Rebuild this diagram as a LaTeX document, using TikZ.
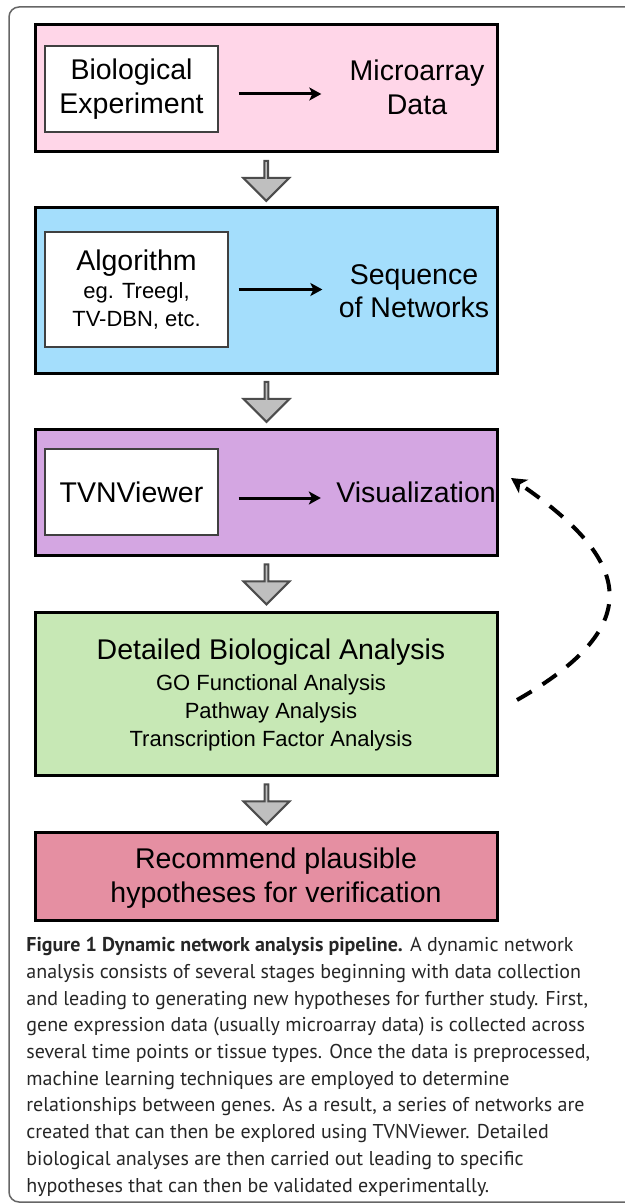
\documentclass[tikz,border=0pt]{standalone}
\usepackage{fontspec}
\setmainfont{Liberation Sans}
\newfontfamily\capfont{PT Sans}
\usepackage{tikz}
\usetikzlibrary{arrows.meta}
\usetikzlibrary{positioning}
\usetikzlibrary{shapes.arrows}
\usetikzlibrary{calc}

\definecolor{stagepink}{RGB}{255,214,232}
\definecolor{stageblue}{RGB}{164,222,252}
\definecolor{stagepurple}{RGB}{212,166,226}
\definecolor{stagegreen}{RGB}{199,232,181}
\definecolor{stagerose}{RGB}{229,143,162}

\newcommand{\bigtxt}{\fontsize{14.25}{17}\selectfont}
\newcommand{\smalltxt}{\fontsize{11}{14}\selectfont}

\tikzset{
  stage/.style={draw=black,line width=1.5pt,minimum width=231pt,inner sep=0pt},
  toolbox/.style={draw=black!75,fill=white,line width=0.7pt,align=center,font=\bigtxt},
  label/.style={anchor=base,align=center,inner sep=0pt,font=\bigtxt},
  flow/.style={-{Stealth[length=6pt,width=6.5pt,inset=1.5pt]},line width=1.5pt},
  blockarrow/.style={single arrow,shape border rotate=270,draw=black!70,fill=black!25,
    line width=1pt,minimum height=20pt,minimum width=23pt,single arrow head extend=6pt,inner sep=0pt},
  feedback/.style={-{Stealth[length=7.5pt,width=8pt,inset=2pt]},line width=2pt,dash pattern=on 8.5pt off 6.5pt}
}

\begin{document}
\begin{tikzpicture}[x=0.5pt,y=-0.5pt]
    \clip (0,0) rectangle (625,1203);
    \draw[black!60,line width=0.75pt,rounded corners=5pt] (9,7) rectangle (700,1202);
    % stages
    \begin{scope}[every node/.style={stage}]
      \node[fill=stagepink,minimum height=63.5pt] (b1) at (266,88.5) {};
      \node[fill=stageblue,minimum height=82.5pt] (b2) at (266.5,290.5) {};
      \node[fill=stagepurple,minimum height=63pt] (b3) at (266.5,492) {};
      \node[fill=stagegreen,minimum height=81.5pt] (b4) at (266.5,693.5) {};
      \node[fill=stagerose,minimum height=44pt] (b5) at (266.5,876) {};
    \end{scope}
    % tools
    \node[toolbox,minimum width=86.5pt,minimum height=43pt] (w1) at (131.5,89) {Biological\\Experiment};
    \node[toolbox,minimum width=91.5pt,minimum height=57.5pt,font=\smalltxt] (w2) at (136.5,289.5)
      {{\bigtxt Algorithm}\\eg. Treegl,\\TV-DBN, etc.};
    \node[toolbox,minimum width=86.5pt,minimum height=43pt] (w3) at (131.5,492) {TVNViewer};
    % outputs (base = last line)
    \node[label] (lab1) at (417,115) {Microarray\\Data};
    \node[label] (lab2) at (414,318) {Sequence\\of Networks};
    \node[label] (lab3) at (416,502) {Visualization};
    \node[label,font=\smalltxt] (lab4) at (271,746)
      {{\bigtxt Detailed Biological Analysis}\\[1.5pt]GO Functional Analysis\\Pathway Analysis\\Transcription Factor Analysis};
    \node[label] (lab5) at (276,902) {Recommend plausible\\hypotheses for verification};
    % arrows
    \draw[flow,shorten <=10pt,shorten >=14pt] ($(w1.east)+(0,5)$) -- ($(w1.east -| lab1.west)+(0,5)$);
    \draw[flow,shorten <=5pt,shorten >=8pt] (w2.east) -- (w2.east -| lab2.west);
    \draw[flow,shorten <=10pt,shorten >=7.5pt] ($(w3.east)+(0,6)$) -- ($(w3.east -| lab3.west)+(0,6)$);
    \node[blockarrow] (d1) at ($(b1.south)!0.5!(b2.north)$) {};
    \node[blockarrow] (d2) at ($(b2.south)!0.5!(b3.north)$) {};
    \node[blockarrow] (d3) at ($(b3.south)!0.5!(b4.north)$) {};
    \node[blockarrow] (d4) at ($(b4.south)!0.5!(b5.north)$) {};
    \draw[feedback] ($(b4.east)+(18,6.5)$) .. controls ($(b4.east)+(149.5,-68.5)$) and ($(b3.east)+(132.5,68)$) .. ($(b3.east)+(12,-14)$);
    % caption
    \node[anchor=base west,inner sep=0pt,align=left,text=black!85,font=\capfont\fontsize{10}{13.35}\selectfont] (cap) at (26,1192)
      {\textbf{Figure 1 Dynamic network analysis pipeline.} A dynamic network\\
       analysis consists of several stages beginning with data collection\\
       and leading to generating new hypotheses for further study. First,\\
       gene expression data (usually microarray data) is collected across\\
       several time points or tissue types. Once the data is preprocessed,\\
       machine learning techniques are employed to determine\\
       relationships between genes. As a result, a series of networks are\\
       created that can then be explored using TVNViewer. Detailed\\
       biological analyses are then carried out leading to specific\\
       hypotheses that can then be validated experimentally.};
\end{tikzpicture}
\end{document}
